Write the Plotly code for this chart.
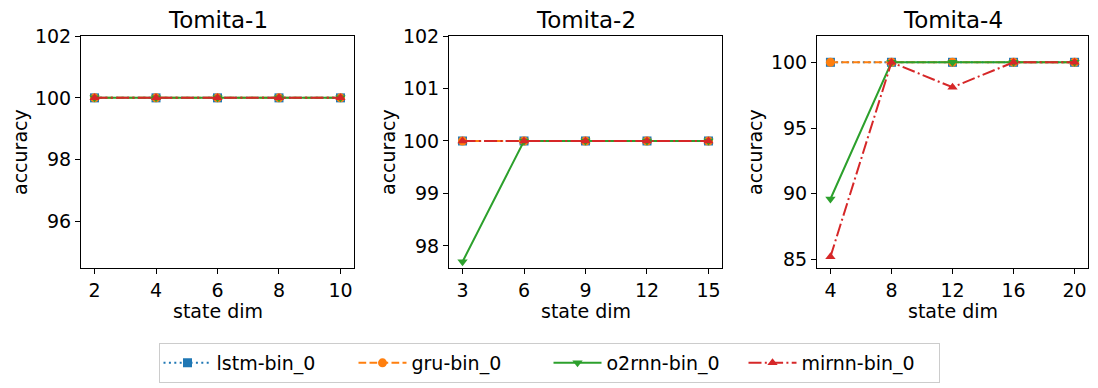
import plotly.graph_objects as go

W, H = 1098, 388

# data per panel
titles = ["Tomita-1", "Tomita-2", "Tomita-4"]
dims_t1 = [2, 4, 6, 8, 10]
dims_t2 = [3, 6, 9, 12, 15]
dims_t4 = [4, 8, 12, 16, 20]

lstm_t1 = [100, 100, 100, 100, 100]
gru_t1 = [100, 100, 100, 100, 100]
o2rnn_t1 = [100, 100, 100, 100, 100]
mirnn_t1 = [100, 100, 100, 100, 100]

lstm_t2 = [100, 100, 100, 100, 100]
gru_t2 = [100, 100, 100, 100, 100]
o2rnn_t2 = [97.7, 100, 100, 100, 100]
mirnn_t2 = [100, 100, 100, 100, 100]

lstm_t4 = [100, 100, 100, 100, 100]
gru_t4 = [100, 100, 100, 100, 100]
o2rnn_t4 = [89.6, 100, 100, 100, 100]
mirnn_t4 = [85.2, 100, 98.1, 100, 100]

y_ticks = [[96, 98, 100, 102], [98, 99, 100, 101, 102], [85, 90, 95, 100]]
y_ranges = [[94.5, 102], [97.58, 102], [84.35, 102]]

# series styles (matplotlib tab10 look)
series = [
    ("lstm-bin_0", "#1f77b4", "2px,3.4px", "square"),
    ("gru-bin_0", "#ff7f0e", "7.7px,3.3px", "circle"),
    ("o2rnn-bin_0", "#2ca02c", "solid", "triangle-down"),
    ("mirnn-bin_0", "#d62728", "13px,3.3px,2px,3.3px", "triangle-up"),
]

panels = [
    (dims_t1, [lstm_t1, gru_t1, o2rnn_t1, mirnn_t1]),
    (dims_t2, [lstm_t2, gru_t2, o2rnn_t2, mirnn_t2]),
    (dims_t4, [lstm_t4, gru_t4, o2rnn_t4, mirnn_t4]),
]

# plot area boxes in pixels (left, right), y-label x position
x_px = [(81, 354), (449, 722), (817, 1088)]
ylab_px = [20, 388, 755]
top_px, bot_px = 36, 268


def fx(px):
    return px / W


def fy(py):
    return (H - py) / H


fig = go.Figure()
font = "DejaVu Sans"
fs = 19

for i, (dims, ys) in enumerate(panels):
    ax = "" if i == 0 else str(i + 1)
    for j, (name, color, dash, sym) in enumerate(series):
        fig.add_trace(go.Scatter(
            x=dims, y=ys[j], name=name, mode="lines+markers",
            line=dict(color=color, width=2, dash=dash),
            marker=dict(symbol=sym, size=9, color=color),
            xaxis="x" + ax, yaxis="y" + ax,
            legendgroup=name, showlegend=(i == 0),
        ))
    span = dims[-1] - dims[0]
    l, r = x_px[i]
    common = dict(
        ticks="outside", ticklen=5, tickcolor="black",
        showline=True, mirror=True, linecolor="black", linewidth=1,
        showgrid=False, zeroline=False, automargin=False,
        tickfont=dict(size=fs, color="black"),
    )
    fig.update_layout(**{
        "xaxis" + ax: dict(
            domain=[fx(l), fx(r)], anchor="y" + ax,
            range=[dims[0] - 0.055 * span, dims[-1] + 0.055 * span],
            tickvals=dims, **common,
        ),
        "yaxis" + ax: dict(
            domain=[fy(bot_px), fy(top_px)], anchor="x" + ax,
            range=y_ranges[i], tickvals=y_ticks[i], **common,
        ),
    })
    fig.add_annotation(
        text=titles[i], x=fx((l + r) / 2), y=fy(20),
        xref="paper", yref="paper", xanchor="center", yanchor="middle",
        showarrow=False, font=dict(size=23, color="black"),
    )
    fig.add_annotation(
        text="state dim", x=fx((l + r) / 2), y=fy(311),
        xref="paper", yref="paper", xanchor="center", yanchor="middle",
        showarrow=False, font=dict(size=fs, color="black"),
    )
    fig.add_annotation(
        text="accuracy", x=fx(ylab_px[i]), y=fy((top_px + bot_px) / 2),
        xref="paper", yref="paper", xanchor="center", yanchor="middle",
        textangle=-90, showarrow=False, font=dict(size=fs, color="black"),
    )

fig.update_layout(
    width=W, height=H,
    margin=dict(l=0, r=0, t=0, b=0),
    paper_bgcolor="white", plot_bgcolor="white",
    font=dict(family=font, color="black"),
    legend=dict(
        orientation="h", x=fx(549), xanchor="center", y=fy(343), yanchor="top",
        bordercolor="#cccccc", borderwidth=1, font=dict(size=fs),
        entrywidth=132, itemwidth=48,
    ),
    showlegend=True,
)

# drop the page's default body margin so the figure fills the window
fig.write_html(
    "out.html",
    config={"displayModeBar": False},
    post_script="document.body.style.margin='0';",
)
